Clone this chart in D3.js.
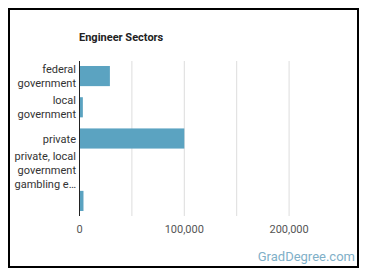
<!DOCTYPE html>
<html><head><meta charset="utf-8">
<script src="https://cdn.jsdelivr.net/npm/d3@7"></script>
<style>body{margin:0;background:#fff;}svg{display:block;font-family:Roboto,"Open Sans",sans-serif;}</style>
</head><body>
<svg id="c" width="370" height="278"></svg>
<script>
const categories = [
  ["federal", "government"],
  ["local", "government"],
  ["private"],
  ["private, local", "government", "gambling e…"],
  [""]
];
const values = [29000, 3200, 100000, 0, 3800];
const gridTicks = [50000, 100000, 150000, 200000];
const labelTicks = [0, 100000, 200000];
const title = "Engineer Sectors";

const svg = d3.select("#c");
svg.append("rect").attr("x", 9).attr("y", 9).attr("width", 349).attr("height", 258)
  .attr("fill", "#fff").attr("stroke", "#000").attr("stroke-width", 2);

const plotLeft = 79.5, plotTop = 61, plotBottom = 216;
const x = d3.scaleLinear().domain([0, 100000]).range([plotLeft, 184.3]);
const y = d3.scaleBand().domain(d3.range(categories.length)).range([plotTop, plotBottom]).paddingInner(0.355).paddingOuter(0.16);

svg.append("text").attr("x", 79).attr("y", 41).text(title)
  .attr("font-size", 11).attr("font-weight", "bold").attr("fill", "#222");

svg.append("g").selectAll("line").data(gridTicks).join("line")
  .attr("x1", d => x(d)).attr("x2", d => x(d)).attr("y1", plotTop).attr("y2", plotBottom)
  .attr("stroke", "#ddd").attr("stroke-width", 1);

svg.append("g").selectAll("rect").data(values).join("rect")
  .attr("x", x(0)).attr("y", (d, i) => y(i)).attr("height", y.bandwidth())
  .attr("width", d => x(d) - x(0)).attr("fill", "#5ba3c1");

svg.append("line").attr("x1", x(0)).attr("x2", x(0)).attr("y1", plotTop).attr("y2", plotBottom)
  .attr("stroke", "#222").attr("stroke-width", 1);

const lh = 14;
categories.forEach((lines, i) => {
  const cy = y(i) + y.bandwidth() / 2;
  const t = svg.append("text").attr("text-anchor", "end").attr("font-size", 11).attr("fill", "#333");
  lines.forEach((ln, j) => {
    t.append("tspan").attr("x", 76).attr("y", cy + (j - (lines.length - 1) / 2) * lh + 4).text(ln);
  });
});

const fmt = d3.format(",");
svg.append("g").selectAll("text").data(labelTicks).join("text")
  .attr("x", d => x(d)).attr("y", 233).attr("text-anchor", "middle")
  .attr("font-size", 11).attr("fill", "#555").text(d => fmt(d));

svg.append("text").attr("x", 355).attr("y", 261).attr("text-anchor", "end")
  .attr("font-size", 13).attr("fill", "#7fb0c8").text("GradDegree.com");
</script>
</body></html>
